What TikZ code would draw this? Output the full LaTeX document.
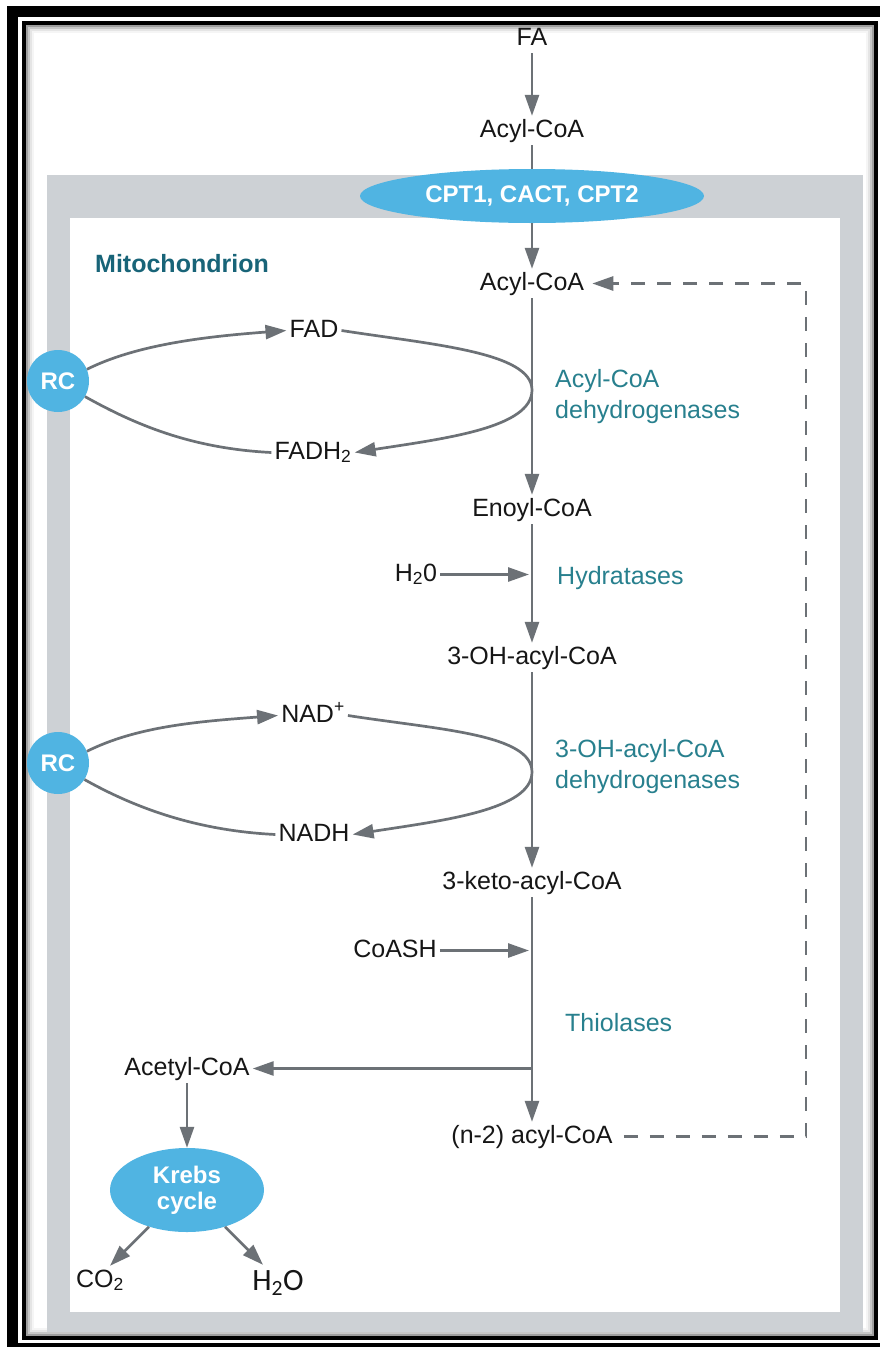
\documentclass[tikz,border=0pt]{standalone}
\usepackage{fontspec}
\setmainfont{Liberation Sans}
\newfontfamily\calfont{Carlito}
\usetikzlibrary{arrows.meta,shapes.geometric}

\definecolor{pathgray}{RGB}{108,113,118}
\definecolor{membrane}{RGB}{205,209,213}
\definecolor{cellblue}{RGB}{80,180,226}
\definecolor{enzteal}{RGB}{40,128,142}
\definecolor{mitoteal}{RGB}{24,100,120}
\definecolor{inktext}{RGB}{22,22,22}

\begin{document}
\begin{tikzpicture}[x=1pt,y=1pt,
  every node/.style={font=\fontsize{25}{30}\selectfont},
  metab/.style={inner sep=3pt, text height=18pt, text depth=5pt, text=inktext, anchor=base},
  enz/.style={inner sep=0pt, align=left, anchor=north west, text=enzteal,
              font=\fontsize{25}{31}\selectfont},
  flow/.style={draw=pathgray, line width=2.7pt, -{Triangle[length=21pt,width=14pt]}},
  link/.style={draw=pathgray, line width=2.7pt},
  recycle/.style={draw=pathgray, line width=2.7pt, dash pattern=on 14pt off 12pt,
                  -{Triangle[length=21pt,width=14pt]}},
  carrier/.style={circle, fill=cellblue, minimum size=62pt, inner sep=0pt, text=white,
                  font=\bfseries\fontsize{24}{26}\selectfont},
  enzblob/.style={ellipse, fill=cellblue, inner sep=0pt, text=white, align=center,
                  font=\bfseries\fontsize{24}{26}\selectfont},
]
\useasboundingbox (0,0) rectangle (880,-1347);
\fill[white] (0,0) rectangle (880,-1347);

% double picture frame with a soft inner shadow
\draw[line width=11pt] (12.5,-11.5) rectangle (892,-1348.5);
\draw[line width=4pt] (24,-23) rectangle (876,-1338);
\draw[black!38, line width=2pt] (27,-26) rectangle (873,-1335);
\draw[black!22, line width=2pt] (29,-28) rectangle (871,-1333);
\draw[black!10, line width=2pt] (31,-30) rectangle (869,-1331);
\draw[black!4, line width=2pt] (33,-32) rectangle (867,-1329);

% mitochondrial membrane
\fill[membrane] (47,-175) rectangle (863,-1332);
\fill[white] (70,-218) rectangle (840,-1312);

% main pathway
\node[metab] (fa) at (532,-45) {FA};
\node[metab] (acylout) at (532,-137) {Acyl-CoA};
\node[enzblob, minimum width=344pt, minimum height=54pt] (cpt) at (532,-196) {CPT1, CACT, CPT2};
\node[anchor=base west, inner sep=0pt, text=mitoteal,
      font=\bfseries\fontsize{25}{30}\selectfont] (mito) at (95,-272) {Mitochondrion};
\node[metab] (acyl) at (532,-290) {Acyl-CoA};
\node[metab] (enoyl) at (532,-516) {Enoyl-CoA};
\node[metab] (ohacyl) at (532,-664) {3-OH-acyl-CoA};
\node[metab] (keto) at (532,-889) {3-keto-acyl-CoA};
\node[metab] (nshort) at (532,-1143) {(n-2) acyl-CoA};

% enzymes
\node[enz] (acd) at (555,-369) {Acyl-CoA\\dehydrogenases};
\node[enz] (hyd) at (557,-566) {Hydratases};
\node[enz] (hadh) at (555,-739) {3-OH-acyl-CoA\\dehydrogenases};
\node[enz] (thio) at (565,-1013) {Thiolases};

% cofactors and side substrates
\node[metab] (fad) at (314,-337) {FAD};
\node[metab] (fadh) at (313,-459) {FADH\textsubscript{2}};
\node[carrier] (rcA) at (58,-381) {RC};
\node[metab] (water) at (416,-581) {H\textsubscript{2}0};
\node[metab] (nad) at (313,-722) {NAD\textsuperscript{+}};
\node[metab] (nadh) at (314,-841) {NADH};
\node[carrier] (rcB) at (58,-763) {RC};
\node[metab] (coash) at (395,-957) {CoASH};

% acetyl-CoA fate
\node[metab] (acetyl) at (187,-1075) {Acetyl-CoA};
\node[enzblob, minimum width=154pt, minimum height=84pt] (krebs) at (187,-1190) {Krebs\\cycle};
\node[metab] (co2) at (100,-1287) {CO\textsubscript{2}};
\node[metab, text height=22pt, font=\calfont\fontsize{31}{34}\selectfont] (water2) at (278,-1290) {H\textsubscript{2}O};

% connectors
\draw[flow] (fa) -- (acylout);
\draw[link] (acylout) -- (cpt);
\draw[flow] (cpt) -- (acyl);
\draw[flow] (acyl) -- (enoyl);
\draw[flow] (enoyl) -- (ohacyl);
\draw[flow] (ohacyl) -- (keto);
\draw[flow] (keto) -- (nshort);
\draw[flow, shorten >=3pt] (water) -- (water -| enoyl);
\draw[flow, shorten >=3pt] (coash) -- (coash -| keto);
\draw[flow] (acetyl -| keto) -- (acetyl);

% FAD / FADH2 loop through the respiratory chain
\coordinate (bendA) at (532,-390);
\draw[flow] (rcA.22) .. controls +(50,25) and +(-80,-6) .. (fad.west);
\draw[flow] (fad.east) .. controls +(90,-14) and +(0,38) .. (bendA)
                       .. controls +(0,-38) and +(90,14) .. (fadh.east);
\draw[link] (fadh.west) .. controls +(-80,4) and +(50,-28) .. (rcA.-30);

% NAD+ / NADH loop
\coordinate (bendB) at (532,-772);
\draw[flow] (rcB.22) .. controls +(50,25) and +(-80,-6) .. (nad.west);
\draw[flow] (nad.east) .. controls +(90,-14) and +(0,38) .. (bendB)
                       .. controls +(0,-38) and +(90,14) .. (nadh.east);
\draw[link] (nadh.west) .. controls +(-80,4) and +(50,-28) .. (rcB.-32);

% shortened acyl-CoA re-enters the spiral
\coordinate (loopx) at (806,0);
\draw[recycle, shorten <=8pt, shorten >=5pt] (nshort.east) -- (nshort.east -| loopx)
      -- (acyl.east -| loopx) -- (acyl.east);

% Krebs cycle
\draw[flow] (acetyl) -- (krebs);
\draw[flow] (krebs.-136) -- ([xshift=10pt]co2.north);
\draw[flow] (krebs.-44) -- ([xshift=-15pt]water2.north);
\end{tikzpicture}
\end{document}
